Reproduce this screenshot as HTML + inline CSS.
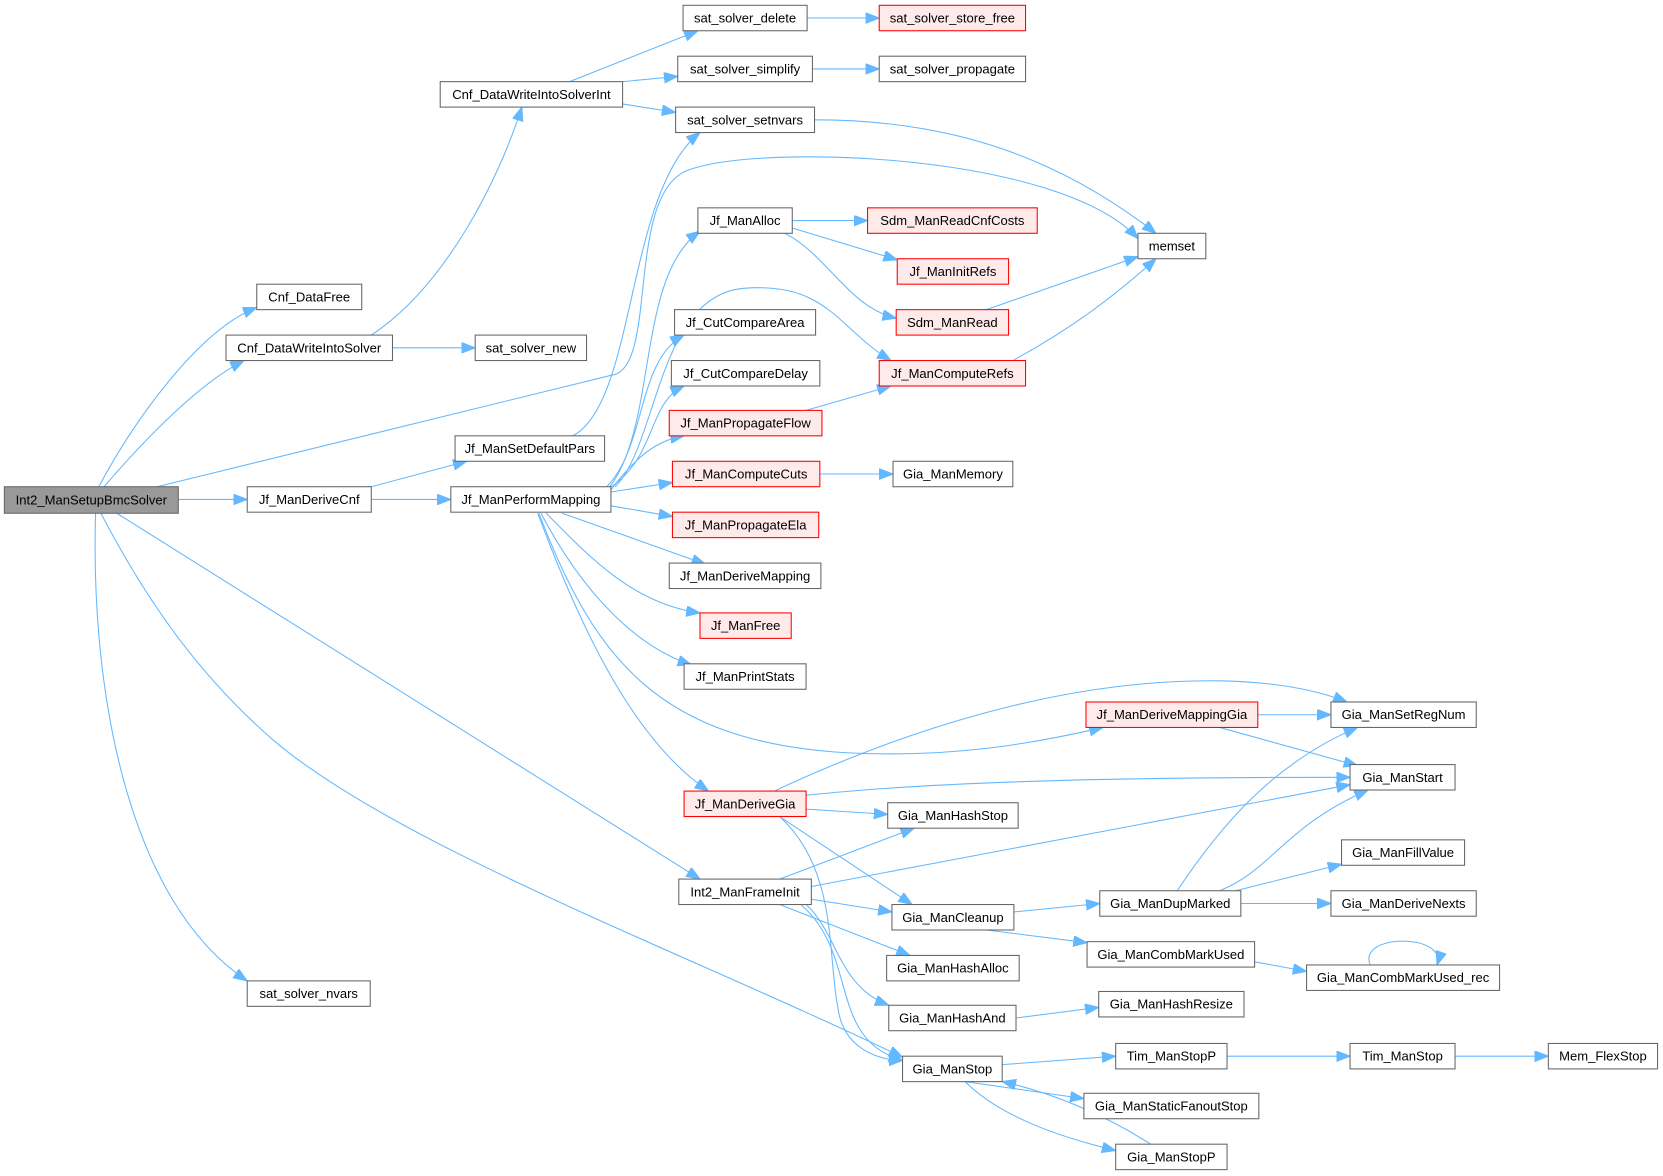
<!DOCTYPE html>
<html><head><meta charset="utf-8"><style>
html,body{margin:0;padding:0;background:#fff;}
svg{display:block}
text{font-family:"Liberation Sans",Arial,sans-serif;font-size:12.3px;fill:#000;text-anchor:middle;dominant-baseline:central}
.n rect{fill:#fff;stroke:#666;stroke-width:1}
.r rect{fill:#ffeaea;stroke:#f00;stroke-width:1}
.g rect{fill:#999;stroke:#666}
path{fill:none;stroke:#63b8ff;stroke-width:1;marker-end:url(#a)}
</style></head><body>
<svg width="1663" height="1176" viewBox="0 0 1568 1109" xmlns="http://www.w3.org/2000/svg">
<defs><marker id="a" markerWidth="14" markerHeight="12" refX="13" refY="5" orient="auto" markerUnits="userSpaceOnUse"><path d="M0,0 L13,5 L0,10 z" style="fill:#63b8ff;stroke:#63b8ff;marker-end:none"/></marker></defs>

<path d="M93,459 C130,390 190,310 242,290"/>
<path d="M98,459 C140,410 190,360 230,340"/>
<path d="M148,459 L580,353 C620,340 590,180 650,160 C720,135 1000,145 1073,225"/>
<path d="M168,471 L233,471"/>
<path d="M110,484 L660,829"/>
<path d="M95,484 C140,570 190,640 260,700 C380,800 650,900 851,997"/>
<path d="M90,484 C85,650 120,850 233,925"/>
<path d="M350,316 C420,270 470,170 492,101"/>
<path d="M370,328 L448,328"/>
<path d="M350,459 L440,435"/>
<path d="M350,471 L425,471"/>
<path d="M537,77 L658,29"/>
<path d="M587,77 L639,72"/>
<path d="M587,98 L637,106"/>
<path d="M761,17 L829,17"/>
<path d="M766,65 L829,65"/>
<path d="M768,113 C900,113 1000,150 1090,220"/>
<path d="M540,411 C600,380 590,180 660,125"/>
<path d="M575,459 C620,400 600,260 660,218"/>
<path d="M572,459 C610,420 600,340 645,316"/>
<path d="M575,460 C620,430 610,380 645,364"/>
<path d="M576,462 C600,430 620,415 645,411"/>
<path d="M576,464 L634,455"/>
<path d="M576,477 L634,487"/>
<path d="M530,484 L665,532"/>
<path d="M515,484 C560,530 600,570 660,578"/>
<path d="M510,484 C550,560 600,610 652,627"/>
<path d="M507,484 C550,600 600,700 668,746"/>
<path d="M508,484 C560,620 620,700 800,710 C900,715 980,700 1040,686"/>
<path d="M580,459 C620,420 620,280 700,272 C780,265 790,310 840,340"/>
<path d="M747,208 L818,208"/>
<path d="M747,215 L846,245"/>
<path d="M740,220 C780,240 800,290 845,300"/>
<path d="M930,292 L1073,242"/>
<path d="M955,340 C1010,310 1050,280 1090,244"/>
<path d="M760,387 L840,364"/>
<path d="M773,447 L842,447"/>
<path d="M1186,674 L1255,674"/>
<path d="M1150,686 L1280,722"/>
<path d="M730,746 C850,690 1000,640 1150,642 C1200,643 1240,650 1270,662"/>
<path d="M760,750 C900,735 1100,733 1273,733"/>
<path d="M760,763 L837,768"/>
<path d="M735,770 L860,853"/>
<path d="M735,770 C790,820 780,900 790,950 C795,990 830,1000 851,1000"/>
<path d="M735,829 L862,781"/>
<path d="M765,836 L1273,740"/>
<path d="M765,848 L841,860"/>
<path d="M735,853 L858,901"/>
<path d="M760,853 C790,880 790,930 838,948"/>
<path d="M755,853 C810,900 780,980 851,1000"/>
<path d="M956,860 L1037,852"/>
<path d="M930,877 L1025,889"/>
<path d="M958,960 L1036,950"/>
<path d="M945,1004 L1052,996"/>
<path d="M910,1020 L1022,1036"/>
<path d="M910,1020 C940,1050 990,1070 1052,1085"/>
<path d="M1085,1079 C1040,1050 990,1030 945,1020"/>
<path d="M1157,996 L1273,996"/>
<path d="M1372,996 L1460,996"/>
<path d="M1110,840 C1150,780 1200,720 1280,686"/>
<path d="M1150,840 C1200,820 1210,780 1290,745"/>
<path d="M1165,840 L1265,815"/>
<path d="M1170,852 L1255,852"/>
<path d="M1183,907 L1232,916"/>
<path d="M1292,910 C1280,880 1365,880 1355,910"/>

<g class="g"><rect x="4" y="459" width="164" height="25"/><text x="86" y="471.5">Int2_ManSetupBmcSolver</text></g>
<g class="n"><rect x="242" y="268" width="99" height="24"/><text x="291.5" y="280">Cnf_DataFree</text></g>
<g class="n"><rect x="213" y="316" width="157" height="24"/><text x="291.5" y="328">Cnf_DataWriteIntoSolver</text></g>
<g class="n"><rect x="233" y="459" width="117" height="24"/><text x="291.5" y="471">Jf_ManDeriveCnf</text></g>
<g class="n"><rect x="233" y="925" width="116" height="24"/><text x="291" y="937">sat_solver_nvars</text></g>
<g class="n"><rect x="415" y="77" width="172" height="24"/><text x="501" y="89">Cnf_DataWriteIntoSolverInt</text></g>
<g class="n"><rect x="448" y="316" width="105" height="24"/><text x="500.5" y="328">sat_solver_new</text></g>
<g class="n"><rect x="429" y="411" width="141" height="24"/><text x="499.5" y="423">Jf_ManSetDefaultPars</text></g>
<g class="n"><rect x="425" y="459" width="151" height="24"/><text x="500.5" y="471">Jf_ManPerformMapping</text></g>
<g class="n"><rect x="640" y="829" width="125" height="24"/><text x="702.5" y="841">Int2_ManFrameInit</text></g>
<g class="n"><rect x="644" y="5" width="117" height="24"/><text x="702.5" y="17">sat_solver_delete</text></g>
<g class="n"><rect x="639" y="53" width="127" height="24"/><text x="702.5" y="65">sat_solver_simplify</text></g>
<g class="n"><rect x="637" y="101" width="131" height="24"/><text x="702.5" y="113">sat_solver_setnvars</text></g>
<g class="n"><rect x="658" y="196" width="89" height="24"/><text x="702.5" y="208">Jf_ManAlloc</text></g>
<g class="n"><rect x="636" y="292" width="133" height="24"/><text x="702.5" y="304">Jf_CutCompareArea</text></g>
<g class="n"><rect x="633" y="340" width="140" height="24"/><text x="703" y="352">Jf_CutCompareDelay</text></g>
<g class="r"><rect x="631" y="387" width="144" height="24"/><text x="703" y="399">Jf_ManPropagateFlow</text></g>
<g class="r"><rect x="634" y="435" width="139" height="24"/><text x="703.5" y="447">Jf_ManComputeCuts</text></g>
<g class="r"><rect x="634" y="483" width="138" height="24"/><text x="703" y="495">Jf_ManPropagateEla</text></g>
<g class="n"><rect x="631" y="531" width="143" height="24"/><text x="702.5" y="543">Jf_ManDeriveMapping</text></g>
<g class="r"><rect x="660" y="578" width="86" height="24"/><text x="703" y="590">Jf_ManFree</text></g>
<g class="n"><rect x="645" y="626" width="115" height="24"/><text x="702.5" y="638">Jf_ManPrintStats</text></g>
<g class="r"><rect x="645" y="746" width="115" height="24"/><text x="702.5" y="758">Jf_ManDeriveGia</text></g>
<g class="r"><rect x="829" y="5" width="138" height="24"/><text x="898" y="17">sat_solver_store_free</text></g>
<g class="n"><rect x="829" y="53" width="138" height="24"/><text x="898" y="65">sat_solver_propagate</text></g>
<g class="r"><rect x="818" y="196" width="160" height="24"/><text x="898" y="208">Sdm_ManReadCnfCosts</text></g>
<g class="r"><rect x="846" y="244" width="105" height="24"/><text x="898.5" y="256">Jf_ManInitRefs</text></g>
<g class="r"><rect x="845" y="292" width="106" height="24"/><text x="898" y="304">Sdm_ManRead</text></g>
<g class="r"><rect x="829" y="340" width="138" height="24"/><text x="898" y="352">Jf_ManComputeRefs</text></g>
<g class="n"><rect x="842" y="435" width="113" height="24"/><text x="898.5" y="447">Gia_ManMemory</text></g>
<g class="n"><rect x="1073" y="220" width="64" height="24"/><text x="1105" y="232">memset</text></g>
<g class="r"><rect x="1024" y="662" width="162" height="24"/><text x="1105" y="674">Jf_ManDeriveMappingGia</text></g>
<g class="n"><rect x="837" y="757" width="123" height="24"/><text x="898.5" y="769">Gia_ManHashStop</text></g>
<g class="n"><rect x="841" y="853" width="115" height="24"/><text x="898.5" y="865">Gia_ManCleanup</text></g>
<g class="n"><rect x="836" y="901" width="125" height="24"/><text x="898.5" y="913">Gia_ManHashAlloc</text></g>
<g class="n"><rect x="838" y="948" width="120" height="24"/><text x="898" y="960">Gia_ManHashAnd</text></g>
<g class="n"><rect x="851" y="996" width="94" height="24"/><text x="898" y="1008">Gia_ManStop</text></g>
<g class="n"><rect x="1037" y="840" width="133" height="24"/><text x="1103.5" y="852">Gia_ManDupMarked</text></g>
<g class="n"><rect x="1025" y="888" width="158" height="24"/><text x="1104" y="900">Gia_ManCombMarkUsed</text></g>
<g class="n"><rect x="1036" y="935" width="137" height="24"/><text x="1104.5" y="947">Gia_ManHashResize</text></g>
<g class="n"><rect x="1052" y="984" width="105" height="24"/><text x="1104.5" y="996">Tim_ManStopP</text></g>
<g class="n"><rect x="1022" y="1031" width="165" height="24"/><text x="1104.5" y="1043">Gia_ManStaticFanoutStop</text></g>
<g class="n"><rect x="1052" y="1079" width="105" height="24"/><text x="1104.5" y="1091">Gia_ManStopP</text></g>
<g class="n"><rect x="1255" y="662" width="137" height="24"/><text x="1323.5" y="674">Gia_ManSetRegNum</text></g>
<g class="n"><rect x="1273" y="721" width="99" height="24"/><text x="1322.5" y="733">Gia_ManStart</text></g>
<g class="n"><rect x="1265" y="792" width="116" height="24"/><text x="1323" y="804">Gia_ManFillValue</text></g>
<g class="n"><rect x="1255" y="840" width="137" height="24"/><text x="1323.5" y="852">Gia_ManDeriveNexts</text></g>
<g class="n"><rect x="1232" y="910" width="182" height="24"/><text x="1323" y="922">Gia_ManCombMarkUsed_rec</text></g>
<g class="n"><rect x="1273" y="984" width="99" height="24"/><text x="1322.5" y="996">Tim_ManStop</text></g>
<g class="n"><rect x="1460" y="984" width="103" height="24"/><text x="1511.5" y="996">Mem_FlexStop</text></g>
</svg>
</body></html>
